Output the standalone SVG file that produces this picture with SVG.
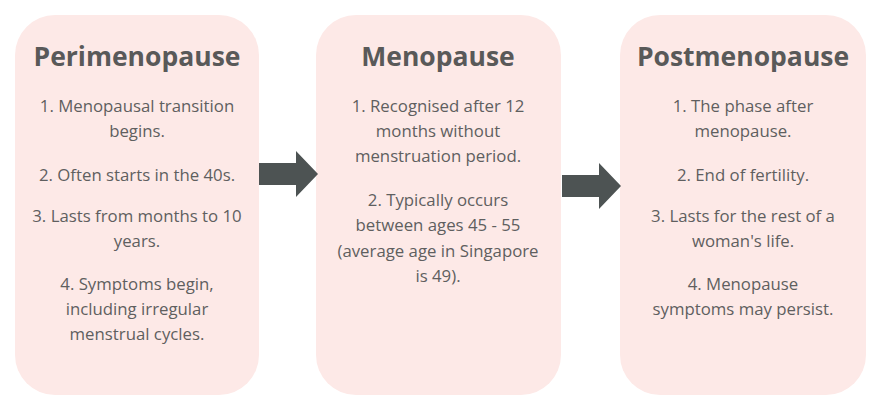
<svg xmlns="http://www.w3.org/2000/svg" width="873" height="399" viewBox="0 0 873 399">
<style>
.box{fill:#fde9e7;}
.t{font-family:"Open Sans","Liberation Sans",sans-serif;font-weight:bold;font-size:26.5px;fill:#595959;text-anchor:middle;}
.b{font-family:"Open Sans","Liberation Sans",sans-serif;font-size:16.8px;fill:#5f5f5f;text-anchor:middle;}
.arr{fill:#4d5353;}
</style>
<rect width="873" height="399" fill="#ffffff"/>
<g id="perimenopause">
<rect class="box" x="15" y="15" width="244" height="380" rx="40"/>
<text class="t" x="137" y="66">Perimenopause</text>
<text class="b" x="137" y="112">1. Menopausal transition</text>
<text class="b" x="137" y="137">begins.</text>
<text class="b" x="137" y="181">2. Often starts in the 40s.</text>
<text class="b" x="137" y="222">3. Lasts from months to 10</text>
<text class="b" x="137" y="247">years.</text>
<text class="b" x="137" y="290">4. Symptoms begin,</text>
<text class="b" x="137" y="315">including irregular</text>
<text class="b" x="137" y="340">menstrual cycles.</text>
</g>
<g id="menopause">
<rect class="box" x="316" y="15" width="245" height="380" rx="40"/>
<text class="t" x="438" y="66">Menopause</text>
<text class="b" x="438" y="112">1. Recognised after 12</text>
<text class="b" x="438" y="137">months without</text>
<text class="b" x="438" y="162">menstruation period.</text>
<text class="b" x="438" y="206">2. Typically occurs</text>
<text class="b" x="438" y="231">between ages 45 - 55</text>
<text class="b" x="438" y="257">(average age in Singapore</text>
<text class="b" x="438" y="282">is 49).</text>
</g>
<g id="postmenopause">
<rect class="box" x="620" y="15" width="246" height="380" rx="40"/>
<text class="t" x="743" y="66">Postmenopause</text>
<text class="b" x="743" y="112">1. The phase after</text>
<text class="b" x="743" y="137">menopause.</text>
<text class="b" x="743" y="181">2. End of fertility.</text>
<text class="b" x="743" y="222">3. Lasts for the rest of a</text>
<text class="b" x="743" y="247">woman's life.</text>
<text class="b" x="743" y="290">4. Menopause</text>
<text class="b" x="743" y="315">symptoms may persist.</text>
</g>
<g id="connectors">
<polygon class="arr" points="259,163 296,163 296,151 318,174 296,197 296,185 259,185"/>
<polygon class="arr" points="562,175 599,175 599,163 621,186 599,209 599,197 562,197"/>
</g>
</svg>
